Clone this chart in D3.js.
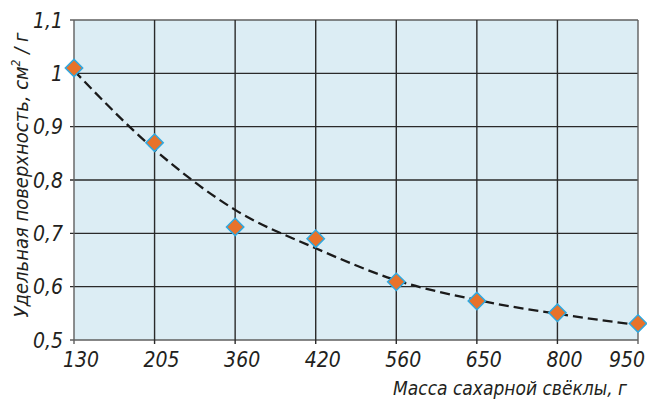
<!DOCTYPE html>
<html>
<head>
<meta charset="utf-8">
<script src="https://cdn.jsdelivr.net/npm/d3@7"></script>
<style>
  body { margin: 0; background: #fff; }
  text { font-family: "Liberation Sans Narrow", "DejaVu Sans Condensed", sans-serif; font-style: italic; fill: #231f20; }
</style>
</head>
<body>
<svg width="647" height="401"></svg>
<script>
// масса свёклы, г
var categories = ['130', '205', '360', '420', '560', '650', '800', '950'];
// удельная поверхность, см2/г
var measured = [1.01, 0.87, 0.712, 0.69, 0.609, 0.573, 0.551, 0.531];
// линия тренда (пунктир)
var trend = [1.005, 0.857, 0.744, 0.672, 0.612, 0.575, 0.549, 0.528];
var yTicks = [0.5, 0.6, 0.7, 0.8, 0.9, 1.0, 1.1];

var svg = d3.select('svg');
var margin = { left: 74, right: 9, top: 20, bottom: 61 };
var w = 647 - margin.left - margin.right, h = 401 - margin.top - margin.bottom;

var x = d3.scalePoint().domain(categories).range([0, w]);
var y = d3.scaleLinear().domain([0.5, 1.1]).range([h, 0]);

var g = svg.append('g').attr('transform', 'translate(' + margin.left + ',' + margin.top + ')');

g.append('rect').attr('width', w).attr('height', h).attr('fill', '#dcedf4');

// сетка
g.selectAll('.hgrid').data(yTicks).enter().append('line')
  .attr('x1', -4).attr('x2', w)
  .attr('y1', function(d) { return y(d); }).attr('y2', function(d) { return y(d); })
  .attr('stroke', function(d, i) { return (i == 0 || i == yTicks.length - 1) ? '#5f5f5f' : '#2a2a2a'; })
  .attr('stroke-width', 1.4);
g.selectAll('.vgrid').data(categories).enter().append('line')
  .attr('x1', function(d) { return x(d); }).attr('x2', function(d) { return x(d); })
  .attr('y1', 0).attr('y2', h + 4)
  .attr('stroke', function(d, i) { return (i == 0 || i == categories.length - 1) ? '#5f5f5f' : '#2a2a2a'; })
  .attr('stroke-width', 1.4);

// подписи осей
g.selectAll('.ylab').data(yTicks).enter().append('text')
  .attr('x', -11).attr('y', function(d) { return y(d); }).attr('dy', '0.36em')
  .attr('text-anchor', 'end').style('font-size', '21px')
  .text(function(d) { return d3.format('.1~f')(d).replace('.', ','); });
g.selectAll('.xlab').data(categories).enter().append('text')
  .attr('x', function(d, i) { return i == categories.length - 1 ? w + 7 : x(d) + 7; })
  .attr('y', h + 27)
  .attr('text-anchor', function(d, i) { return i == categories.length - 1 ? 'end' : 'middle'; })
  .style('font-size', '21px')
  .text(function(d) { return d; });

// тренд
var line = d3.line()
  .x(function(d, i) { return x(categories[i]); })
  .y(function(d) { return y(d); })
  .curve(d3.curveMonotoneX);
g.append('path').datum(trend).attr('d', line)
  .attr('fill', 'none').attr('stroke', '#1a1a1a').attr('stroke-width', 2.3)
  .attr('stroke-dasharray', '10,5');

// точки
var sym = d3.symbol().type(d3.symbolSquare).size(150);
g.selectAll('.pt').data(measured).enter().append('path')
  .attr('d', sym)
  .attr('transform', function(d, i) { return 'translate(' + x(categories[i]) + ',' + y(d) + ') rotate(45)'; })
  .attr('fill', '#e8722a').attr('stroke', '#2fa8df').attr('stroke-width', 1.5);

// заголовки
svg.append('text').attr('x', 627).attr('y', 395).attr('text-anchor', 'end')
  .style('font-size', '19px').text('Масса сахарной свёклы, г');
var yt = svg.append('text').attr('transform', 'translate(28,175) rotate(-90)')
  .attr('text-anchor', 'middle').style('font-size', '20px');
yt.append('tspan').text('Удельная поверхность, см');
yt.append('tspan').attr('dy', -8).style('font-size', '12px').text('2');
yt.append('tspan').attr('dy', 8).text(' / г');
</script>
</body>
</html>
